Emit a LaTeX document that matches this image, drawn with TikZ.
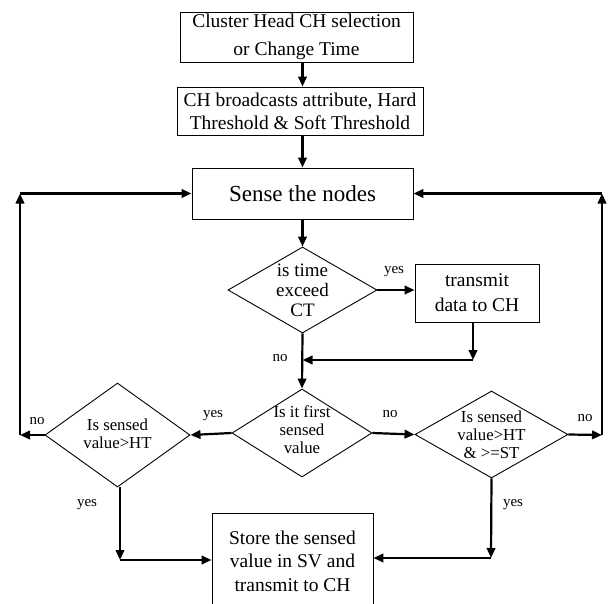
\documentclass[tikz,border=0pt]{standalone}
\usepackage{fontspec}
\setmainfont{Liberation Serif}
\usetikzlibrary{shapes.geometric,arrows.meta}
\begin{document}
\begin{tikzpicture}[x=1pt,y=-1pt,
  stepbox/.style={draw=black, line width=0.9pt, inner sep=0pt, align=center,
    font=\fontsize{19.5}{24}\selectfont},
  decision/.style={diamond, draw=black, line width=0.9pt, inner sep=0pt},
  dtext/.style={align=center, inner sep=0pt, font=\fontsize{16.8}{18}\selectfont},
  arr/.style={-{Triangle[length=10pt,width=8.5pt]}, line width=2.2pt},
  lbl/.style={inner sep=0pt, font=\fontsize{15}{15}\selectfont}]
\useasboundingbox (0,0) rectangle (608,603);
\clip (0,0) rectangle (608,603);

% process boxes
\node[stepbox, minimum width=233pt, minimum height=50pt,
  font=\fontsize{19.5}{28.5}\selectfont] (b1) at (296.5,37)
  {Cluster Head CH selection\\or Change Time};
\node[stepbox, minimum width=246pt, minimum height=48pt,
  font=\fontsize{19.5}{23}\selectfont] (b2) at (300,111)
  {CH broadcasts attribute, Hard\\Threshold \& Soft Threshold};
\node[stepbox, minimum width=221pt, minimum height=51pt,
  font=\fontsize{23}{26}\selectfont] (b3) at (302.5,193.5) {Sense the nodes};
\node[stepbox, minimum width=124pt, minimum height=58pt,
  font=\fontsize{19.5}{25}\selectfont] (tx) at (477,293) {transmit\\data to CH};
\node[stepbox, minimum width=161pt, minimum height=96pt,
  font=\fontsize{19.5}{23.5}\selectfont] (b4) at (292.5,561)
  {Store the sensed\\value in SV and\\transmit to CH};

% decisions
\node[decision, minimum width=149pt, minimum height=86pt] (d1) at (302.5,290) {};
\node[dtext, font=\fontsize{19}{20}\selectfont] (d1t) at (302.5,290) {is time\\exceed\\CT};
\node[decision, minimum width=140pt, minimum height=88pt] (d2) at (302,433) {};
\node[dtext] (d2t) at (302,430) {Is it first\\sensed\\value};
\node[decision, minimum width=145pt, minimum height=104pt] (d3) at (117.5,435) {};
\node[dtext] (d3t) at (117.5,434) {Is sensed\\value>HT};
\node[decision, minimum width=153pt, minimum height=87pt] (d4) at (491.5,434.5) {};
\node[dtext] (d4t) at (491.5,435) {Is sensed\\value>HT\\\& >=ST};

% junction points
\coordinate (j1) at (473,360);
\coordinate (l1) at (20,435);
\coordinate (r1) at (602,435);
\coordinate (lb) at (120,560);
\coordinate (rb) at (491,558);

% main flow
\draw[arr] (b1.south -| d1) -- (b2.north -| d1);
\draw[arr] (b2.south -| d1) -- (b3.north -| d1);
\draw[arr] (b3.south -| d1) -- (d1.north);
\draw[arr] (d1.east) -- (tx.west |- d1.east);
\draw[arr] (tx.south -| j1) -- (j1);
\draw[arr] (j1) -- (j1 -| d1);
\draw[arr] (d1.south) -- (d2.north);
\draw[arr] (d2.west) -- (d3.east);
\draw[arr] (d2.east) -- (d4.west);

% left loop back
\draw[arr] (d3.west) -- (l1);
\draw[arr] (l1) -- (l1 |- b3.west);
\draw[arr] (l1 |- b3.west) -- (b3.west);

% right loop back
\draw[arr] (d4.east) -- (r1);
\draw[arr] (r1) -- (r1 |- b3.east);
\draw[arr] (r1 |- b3.east) -- (b3.east);

% store branches
\draw[arr] (d3.south -| lb) -- (lb);
\draw[arr] (lb) -- (lb -| b4.west);
\draw[arr] (d4.south) -- (rb);
\draw[arr] (rb) -- (rb -| b4.east);

% branch labels
\node[lbl] (y1) at (394,272) {yes};
\node[lbl] (n1) at (280,358) {no};
\node[lbl] (y2) at (213,416) {yes};
\node[lbl] (n2) at (390,414) {no};
\node[lbl] (n3) at (37,421) {no};
\node[lbl] (n4) at (585,418) {no};
\node[lbl] (y3) at (87,505) {yes};
\node[lbl] (y4) at (513,505) {yes};
\end{tikzpicture}
\end{document}
